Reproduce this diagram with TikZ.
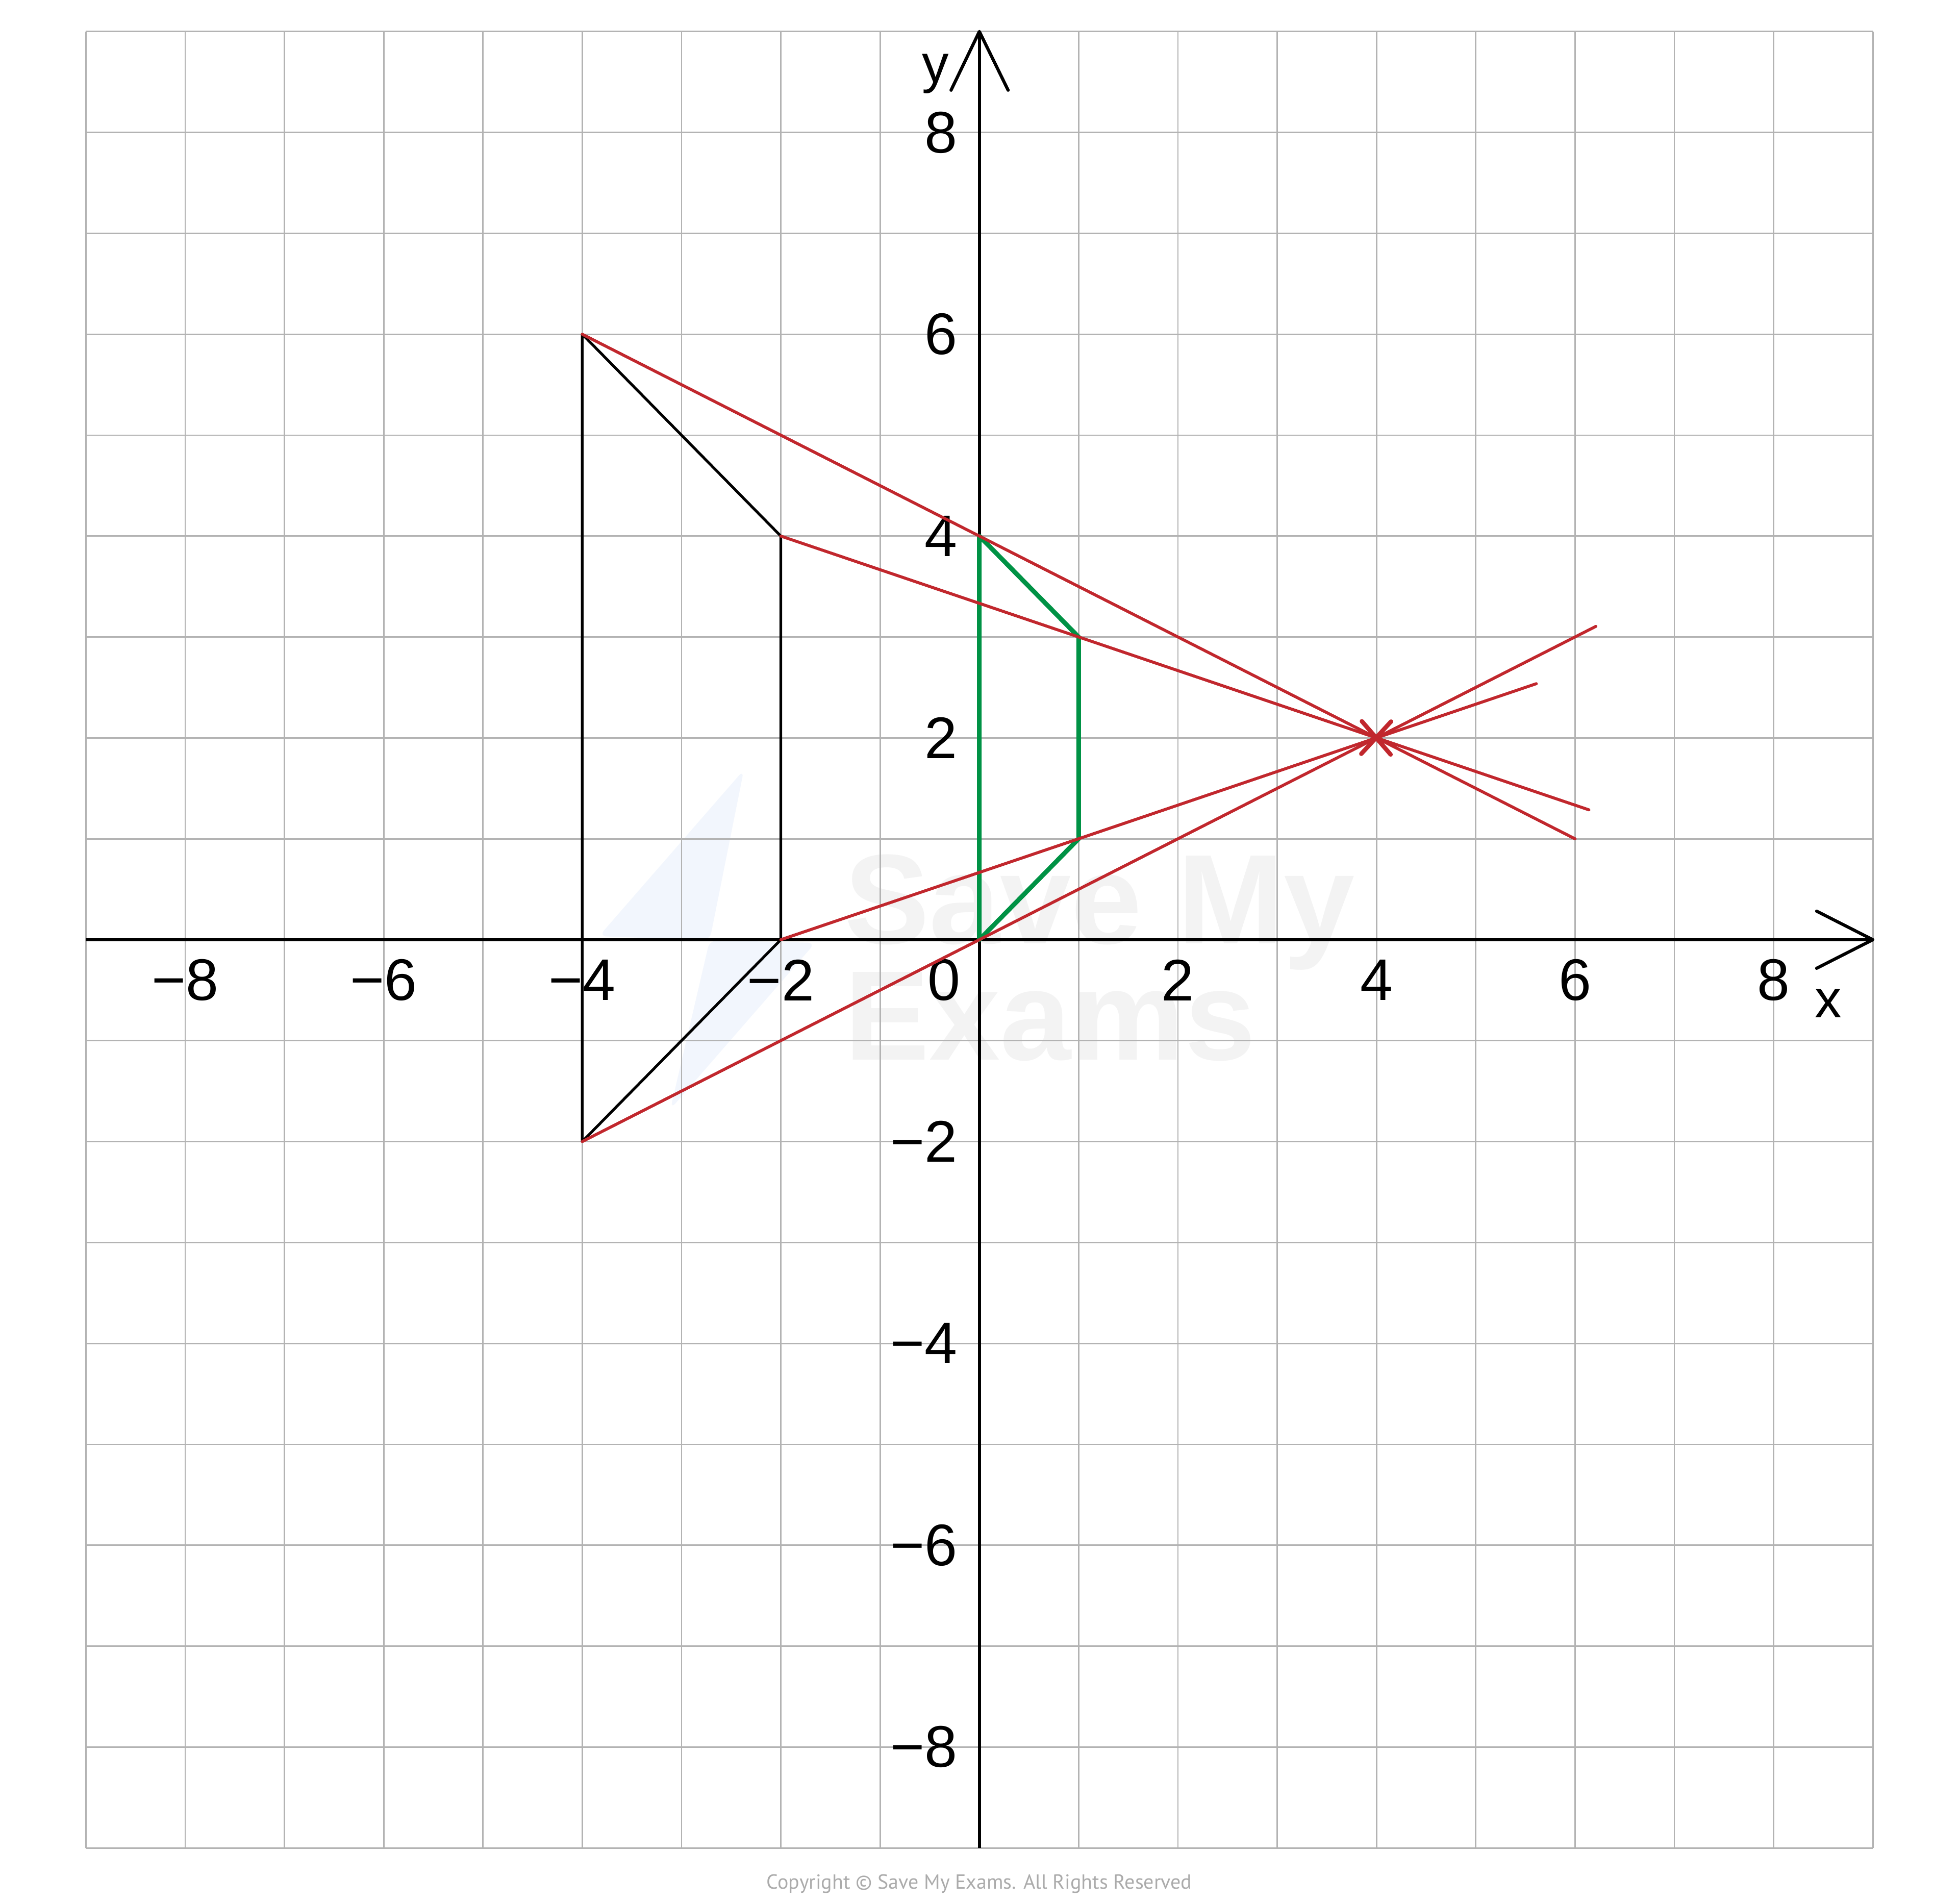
\documentclass[tikz,border=0pt]{standalone}
\usepackage{fontspec}
\setmainfont{Liberation Sans}
\newfontfamily\cpfont{PT Sans}
\newfontfamily\wmfont{Liberation Sans}
\definecolor{gridgray}{HTML}{B3B3B3}
\definecolor{enlred}{HTML}{C1272D}
\definecolor{imggreen}{HTML}{009245}
\definecolor{wmgray}{HTML}{F3F3F3}
\definecolor{wmblue}{HTML}{F2F6FD}
\definecolor{cpgray}{HTML}{ABABAB}
\begin{document}
\begin{tikzpicture}[x=19.46pt,y=19.78pt,
  gridline/.style={draw=gridgray,line width=0.28pt},
  axisline/.style={draw=black,line width=0.62pt},
  arrowarm/.style={draw=black,line width=0.62pt,line cap=round,line join=round},
  objline/.style={draw=black,line width=0.53pt,line join=round},
  rayline/.style={draw=enlred,line width=0.58pt,line cap=round},
  imgline/.style={draw=imggreen,line width=0.9pt,line join=round},
  centremark/.style={draw=enlred,line width=0.85pt,line cap=round},
  ticklabel/.style={inner sep=0pt,font=\fontsize{11.5}{12}\selectfont},
  axislabel/.style={inner sep=0pt,font=\fontsize{10.5}{12}\selectfont},
  wmtext/.style={inner sep=0pt,anchor=base west,text=wmgray,font=\wmfont\bfseries\fontsize{25}{25}\selectfont}]
\useasboundingbox[fill=white] (-9.865,-9.551) rectangle (9.868,9.312);

% watermark
\coordinate (LA) at (-2.372,1.683);
\coordinate (LB) at (-3.831,0.035);
\coordinate (LC) at (-2.716,-0.005);
\coordinate (LE) at (-1.653,-0.031);
\coordinate (LF) at (-3.112,-1.679);
\fill[wmblue,rounded corners=1.5pt] (LA) -- (LB) -- (LC) -- cycle;
\fill[wmblue,rounded corners=1.5pt] (LC) -- (LE) -- (LF) -- cycle;
\node[wmtext] (wm1) at (-1.37,-0.04) {Save My};
\node[wmtext] (wm2) at (-1.37,-1.19) {Exams};

% grid
\foreach \i in {-9,...,9} {
  \draw[gridline] (\i,-9) -- (\i,9);
  \draw[gridline] (-9,\i) -- (9,\i);
}

% axes
\coordinate (xl) at (-9,0);
\coordinate (xr) at (9,0);
\coordinate (yb) at (0,-9);
\coordinate (yt) at (0,9);
\draw[axisline] (xl) -- (xr);
\draw[axisline] (yb) -- (yt);
\coordinate (xa1) at (8.434,0.283);
\coordinate (xa2) at (8.434,-0.283);
\coordinate (ya1) at (-0.285,8.418);
\coordinate (ya2) at (0.29,8.418);
\draw[arrowarm] (xa1) -- (xr) -- (xa2);
\draw[arrowarm] (ya1) -- (yt) -- (ya2);

% tick labels
\foreach \v/\t in {-8/{−8},-6/{−6},-4/{−4},-2/{−2},2/2,4/4,6/6,8/8} {
  \node[ticklabel] (xt\v) at (\v,-0.40) {\t};
  \node[ticklabel,anchor=east] (yt\v) at (-0.21,\v) {\t};
}
\node[ticklabel,anchor=east] (zero) at (-0.18,-0.40) {0};
\node[axislabel] (xlab) at (8.55,-0.63) {x};
\node[axislabel] (ylab) at (-0.44,8.58) {y};

% object
\coordinate (P1) at (-4,6);
\coordinate (P2) at (-2,4);
\coordinate (P3) at (-2,0);
\coordinate (P4) at (-4,-2);
\draw[objline] (P1) -- (P2) -- (P3) -- (P4) -- cycle;

% image
\coordinate (Q1) at (0,4);
\coordinate (Q2) at (1,3);
\coordinate (Q3) at (1,1);
\coordinate (Q4) at (0,0);
\draw[imgline] (Q1) -- (Q2) -- (Q3) -- (Q4) -- cycle;

% rays through centre
\coordinate (C) at (4,2);
\coordinate (R1) at (6,1);
\coordinate (R2) at (6.14,1.287);
\coordinate (R3) at (5.61,2.537);
\coordinate (R4) at (6.21,3.105);
\draw[rayline] (P1) -- (R1);
\draw[rayline] (P2) -- (R2);
\draw[rayline] (P3) -- (R3);
\draw[rayline] (P4) -- (R4);
\draw[centremark] (C) ++(-0.147,0.165) -- ++(0.29,-0.33);
\draw[centremark] (C) ++(0.147,0.162) -- ++(-0.30,-0.32);

% copyright
\node[inner sep=0pt,text=cpgray,font=\cpfont\fontsize{4}{5}\selectfont] (copy) at (0,-9.358) {Copyright © Save My Exams. All Rights Reserved};
\end{tikzpicture}
\end{document}
